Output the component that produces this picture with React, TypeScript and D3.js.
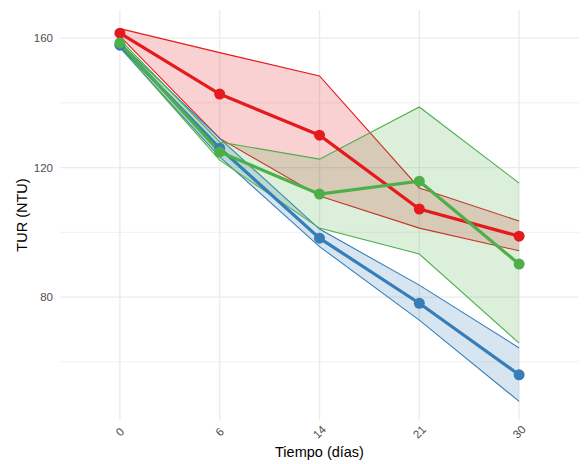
import React from 'react';
import * as d3 from 'd3';

const days = ['0', '6', '14', '21', '30'];
const groups = ['red', 'blue', 'green'];
const colors = ['#E41A1C', '#377EB8', '#4DAF4A'];

const redMean = [161.5, 142.7, 130.0, 107.2, 98.8];
const redLow = [160.6, 129.0, 111.2, 101.3, 94.3];
const redHigh = [162.9, 155.5, 148.3, 113.7, 103.5];

const blueMean = [157.8, 126.0, 98.2, 78.1, 56.0];
const blueLow = [157.0, 123.3, 95.6, 72.9, 47.8];
const blueHigh = [158.6, 129.0, 101.0, 83.7, 64.3];

const greenMean = [158.5, 124.8, 111.8, 115.8, 90.2];
const greenLow = [157.2, 122.3, 101.3, 93.3, 65.8];
const greenHigh = [159.6, 127.9, 122.6, 138.7, 115.2];

const yMajor = [80, 120, 160];
const yMinor = [60, 100, 140];

const series = [
  { mean: redMean, low: redLow, high: redHigh },
  { mean: blueMean, low: blueLow, high: blueHigh },
  { mean: greenMean, low: greenLow, high: greenHigh },
];

const App = () => {
  const W = 585;
  const H = 464;
  const panel = { left: 60, right: 579, top: 10, bottom: 420 };

  const x = d3.scalePoint<string>()
    .domain(days)
    .range([panel.left, panel.right])
    .padding(0.6);

  const allVals = series.flatMap(s => [...s.low, ...s.high]);
  const lo = d3.min(allVals) as number;
  const hi = d3.max(allVals) as number;
  const pad = (hi - lo) * 0.05;
  const y = d3.scaleLinear()
    .domain([lo - pad, hi + pad])
    .range([panel.bottom, panel.top]);

  const line = d3.line<number>()
    .x((_, i) => x(days[i]) as number)
    .y(d => y(d));

  const font = '"Liberation Sans", Arial, sans-serif';

  return (
    <svg width={W} height={H} style={{ position: 'absolute', left: 0, top: 0 }} fontFamily={font}>
      <rect width={W} height={H} fill="#fff" />
      {/* grid */}
      {yMinor.map(v => (
        <line key={'mi' + v} x1={panel.left} x2={panel.right} y1={y(v)} y2={y(v)} stroke="#EBEBEB" strokeWidth={0.7} />
      ))}
      {yMajor.map(v => (
        <line key={'ma' + v} x1={panel.left} x2={panel.right} y1={y(v)} y2={y(v)} stroke="#EBEBEB" strokeWidth={1.3} />
      ))}
      {days.map(d => (
        <line key={'vx' + d} x1={x(d)} x2={x(d)} y1={panel.top} y2={panel.bottom} stroke="#EBEBEB" strokeWidth={1.3} />
      ))}

      {/* ribbons */}
      {series.map((s, gi) => {
        const pts = days.map((d, i) => [x(d) as number, y(s.high[i])]);
        const back = days.map((d, i) => [x(d) as number, y(s.low[i])]).reverse();
        const path = 'M' + [...pts, ...back].map(p => p.join(',')).join('L') + 'Z';
        return (
          <g key={'rib' + groups[gi]}>
            <path d={path} fill={colors[gi]} fillOpacity={0.2} stroke="none" />
            <path d={line(s.high) as string} fill="none" stroke={colors[gi]} strokeWidth={1.1} />
            <path d={line(s.low) as string} fill="none" stroke={colors[gi]} strokeWidth={1.1} />
          </g>
        );
      })}

      {/* lines */}
      {series.map((s, gi) => (
        <path key={'ln' + groups[gi]} d={line(s.mean) as string} fill="none" stroke={colors[gi]} strokeWidth={3.2} />
      ))}

      {/* points */}
      {series.map((s, gi) => (
        <g key={'pt' + groups[gi]}>
          {s.mean.map((v, i) => (
            <circle key={i} cx={x(days[i])} cy={y(v)} r={5.5} fill={colors[gi]} />
          ))}
        </g>
      ))}

      {/* y axis labels */}
      {yMajor.map(v => (
        <text key={'yl' + v} x={53} y={y(v)} dy="0.35em" textAnchor="end" fontSize={11.5} fill="#4D4D4D">{v}</text>
      ))}

      {/* x axis labels */}
      {days.map(d => (
        <text key={'xl' + d} transform={`translate(${x(d)},${432}) rotate(-45)`} dy="0.35em" textAnchor="middle" fontSize={11.5} fill="#4D4D4D">{d}</text>
      ))}

      <text x={(panel.left + panel.right) / 2} y={457} textAnchor="middle" fontSize={14.5} fill="#000">Tiempo (días)</text>
      <text transform={`translate(27,${(panel.top + panel.bottom) / 2}) rotate(-90)`} textAnchor="middle" fontSize={14.5} fill="#000">TUR (NTU)</text>
    </svg>
  );
};

export default App;
